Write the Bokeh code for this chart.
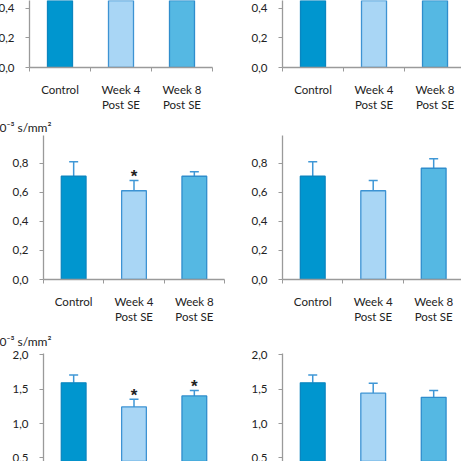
# 拡散係数の棒グラフ (Control / Week 4 / Week 8 Post SE) 2列×3段、上下は切れている

# %%
from bokeh.embed import file_html
from bokeh.layouts import column, row
from bokeh.models import ColumnDataSource, CustomJSTickFormatter, FixedTicker, TeeHead, Title, Whisker
from bokeh.plotting import figure
from bokeh.resources import INLINE

# %%
# データ
categories = ["Control", "Week 4\nPost SE", "Week 8\nPost SE"]

# 上段 (上が切れていて値は見えない)
top_left_mean = [0.72, 0.63, 0.70]
top_right_mean = [0.72, 0.64, 0.74]

# 中段
mid_left_mean = [0.71, 0.61, 0.71]
mid_left_err = [0.10, 0.07, 0.03]
mid_left_sig = [False, True, False]
mid_right_mean = [0.71, 0.61, 0.765]
mid_right_err = [0.10, 0.07, 0.065]
mid_right_sig = [False, False, False]

# 下段 (下が切れている)
bot_left_mean = [1.59, 1.24, 1.40]
bot_left_err = [0.115, 0.11, 0.08]
bot_left_sig = [False, True, True]
bot_right_mean = [1.59, 1.44, 1.38]
bot_right_err = [0.115, 0.145, 0.10]
bot_right_sig = [False, False, False]

unit_text = "×10⁻³ s/mm²"

# %%
fill_colors = ["#0096CF", "#A9D6F5", "#55B8E3"]
line_colors = ["#0B86C0", "#3D93D3", "#2F8DCC"]
err_color = "#3F97D6"
axis_color = "#9A9A9A"
text_color = "#222222"
font = "Lato"
SHIFT = 12  # 左端を画面外に出す分


def make_panel(mean, err, sig, y_start, y_end, y_ticks, x_end, width, height,
               b_left, b_right, b_top, b_bottom, show_x=True, unit_standoff=None):
    centers = [i + 0.5 for i in range(len(categories))]
    p = figure(width=width, height=height, x_range=(0, x_end), y_range=(y_start, y_end),
               output_backend="svg", toolbar_location=None,
               min_border_left=b_left, min_border_right=b_right,
               min_border_top=b_top, min_border_bottom=b_bottom)
    p.outline_line_color = None
    p.grid.visible = False

    if unit_standoff is not None:
        p.title = Title(text=unit_text, align="left", offset=-58, standoff=unit_standoff,
                        text_font=font, text_font_size="12px", text_font_style="normal",
                        text_color=text_color)

    src = ColumnDataSource(data=dict(x=centers, top=mean, fill=fill_colors, line=line_colors))
    p.vbar(x="x", top="top", bottom=0, width=0.41, source=src,
           fill_color="fill", line_color="line", line_width=1.3)

    if err is not None:
        upper = [m + e for m, e in zip(mean, err)]
        esrc = ColumnDataSource(data=dict(x=centers, lower=mean, upper=upper))
        p.add_layout(Whisker(base="x", lower="lower", upper="upper", source=esrc,
                             line_color=err_color, line_width=1.5, lower_head=None,
                             upper_head=TeeHead(size=9, line_color=err_color, line_width=1.5)))
        sx = [c for c, s in zip(centers, sig) if s]
        sy = [u for u, s in zip(upper, sig) if s]
        if sx:
            p.text(x=sx, y=sy, text=["*"] * len(sx), text_align="center",
                   text_baseline="alphabetic", text_font_size="17px", text_font_style="bold",
                   text_color=text_color, y_offset=-4)

    # y軸
    p.yaxis.ticker = FixedTicker(ticks=y_ticks)
    p.yaxis.formatter = CustomJSTickFormatter(code="return tick.toFixed(1).replace('.', ',')")
    p.yaxis.axis_line_color = axis_color
    p.yaxis.axis_line_width = 1.3
    p.yaxis.major_tick_line_color = axis_color
    p.yaxis.major_tick_out = 4
    p.yaxis.major_tick_in = 0
    p.yaxis.minor_tick_line_color = None
    p.yaxis.major_label_standoff = 11
    p.yaxis.major_label_text_font = font
    p.yaxis.major_label_text_font_size = "11.5px"
    p.yaxis.major_label_text_color = text_color

    # x軸 区切りの位置に目盛り、ラベルは真ん中
    p.xaxis.visible = show_x
    p.xaxis.ticker = FixedTicker(ticks=centers, minor_ticks=list(range(len(categories) + 1)))
    p.xaxis.formatter = CustomJSTickFormatter(args=dict(labels=categories),
                                              code="return labels[Math.round(tick - 0.5)]")
    p.xaxis.axis_line_color = axis_color
    p.xaxis.axis_line_width = 1.3
    p.xaxis.major_tick_line_color = None
    p.xaxis.minor_tick_line_color = axis_color
    p.xaxis.minor_tick_out = 4
    p.xaxis.minor_tick_in = 0
    p.xaxis.major_label_standoff = 9
    p.xaxis.major_label_text_font = font
    p.xaxis.major_label_text_font_size = "11.5px"
    p.xaxis.major_label_text_color = text_color
    return p


# %%
p1 = make_panel(top_left_mean, None, None, 0, 0.454, [0, 0.2, 0.4], 3, 240 + SHIFT, 116,
                29 + SHIFT, 28, 0, 49)
p2 = make_panel(top_right_mean, None, None, 0, 0.454, [0, 0.2, 0.4], 2.934, 221, 116,
                42, 0, 0, 49)
p3 = make_panel(mid_left_mean, mid_left_err, mid_left_sig, 0, 0.99, [0, 0.2, 0.4, 0.6, 0.8], 3,
                240 + SHIFT, 210, 43 + SHIFT, 16, 19, 47, unit_standoff=2)
p4 = make_panel(mid_right_mean, mid_right_err, mid_right_sig, 0, 0.99, [0, 0.2, 0.4, 0.6, 0.8],
                2.96, 221, 210, 42, 0, 19, 47)
p5 = make_panel(bot_left_mean, bot_left_err, bot_left_sig, 0.449, 2.015, [0.5, 1.0, 1.5, 2.0], 3,
                240 + SHIFT, 135, 43 + SHIFT, 16, 27, 0, show_x=False, unit_standoff=10)
p6 = make_panel(bot_right_mean, bot_right_err, bot_right_sig, 0.449, 2.015, [0.5, 1.0, 1.5, 2.0],
                2.96, 221, 135, 42, 0, 27, 0, show_x=False)

p = column(row(p1, p2), row(p3, p4), row(p5, p6), margin=(0, 0, 0, -SHIFT))

open("out.html", "w").write(file_html(p, INLINE))
